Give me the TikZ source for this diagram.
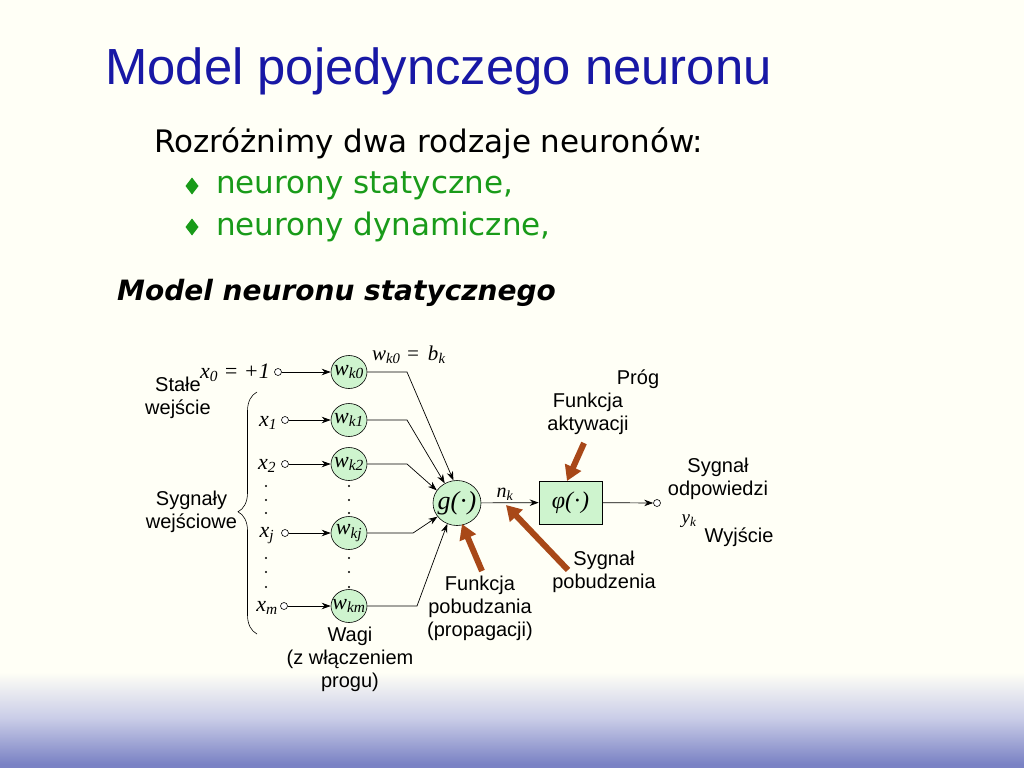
\documentclass[tikz,border=0pt]{standalone}
\usepackage{fontspec}
\setmainfont{Liberation Sans}
\newfontfamily\tms{Liberation Serif}
\newfontfamily\comic{DejaVu Sans}
\usetikzlibrary{arrows.meta,decorations.pathreplacing,shapes.geometric}
\definecolor{bgivory}{RGB}{255,255,246}
\definecolor{bgblue}{RGB}{122,130,196}
\definecolor{titleblue}{RGB}{24,24,165}
\definecolor{bulgreen}{RGB}{25,155,25}
\definecolor{lgreen}{RGB}{206,244,206}
\definecolor{rust}{RGB}{168,72,24}
\tikzset{
  lbl/.style={font=\fontsize{20}{23}\selectfont, align=center, inner sep=0},
  mth/.style={font=\tms\itshape\fontsize{22}{24}\selectfont, inner sep=0},
  wnode/.style={ellipse, draw, line width=0.6pt, fill=lgreen, minimum width=36pt, minimum height=33pt, inner sep=0, font=\tms\itshape\fontsize{22}{24}\selectfont},
  inp/.style={circle, draw, line width=0.6pt, fill=white, minimum size=7pt, inner sep=0},
  conn/.style={-{Stealth[length=9pt,width=6.5pt]}, line width=0.7pt},
  bigarrow/.style={draw=rust, line width=6pt, -{Triangle[length=15pt,width=17pt]}},
  vdot/.style={circle, fill=black, minimum size=2.2pt, inner sep=0}
}
\newcommand{\wlab}[1]{\makebox[0pt]{w\textsubscript{#1}}}
\begin{document}
\begin{tikzpicture}[x=1pt,y=-1pt]
\useasboundingbox (0,0) rectangle (1024,768);
\fill[bgivory] (0,0) rectangle (1024,768);
\shade[top color=bgivory, bottom color=bgblue, middle color=bgblue!40!white] (0,672) rectangle (1024,764);
\fill[bgblue] (0,764) rectangle (1024,768);

% header texts
\node[anchor=base west, inner sep=0, text=titleblue, font=\fontsize{50.8}{60}\selectfont] (title) at (105,84) {Model pojedynczego neuronu};
\node[anchor=base west, inner sep=0, font=\comic\fontsize{31}{36}\selectfont] (intro) at (154,152) {Rozróżnimy dwa rodzaje neuronów:};
\fill[bulgreen] (192,177.5) -- (198.5,186) -- (192,194.5) -- (185.5,186) -- cycle;
\node[anchor=base west, inner sep=0, text=bulgreen, font=\comic\fontsize{31}{36}\selectfont] (b1) at (216,193) {neurony statyczne,};
\fill[bulgreen] (192,218.5) -- (198.5,227) -- (192,235.5) -- (185.5,227) -- cycle;
\node[anchor=base west, inner sep=0, text=bulgreen, font=\comic\fontsize{31}{36}\selectfont] (b2) at (216,235) {neurony dynamiczne,};
\node[anchor=base west, inner sep=0, font=\comic\bfseries\itshape\fontsize{28}{34}\selectfont] (sub) at (117,300) {Model neuronu statycznego};

% weight nodes
\node[wnode] (w0) at (349,372) {\wlab{k0}};
\node[wnode] (w1) at (349,420) {\wlab{k1}};
\node[wnode] (w2) at (349,464) {\wlab{k2}};
\node[wnode] (wj) at (349,533) {\wlab{kj}};
\node[wnode] (wm) at (349,606) {\wlab{km}};

% input terminals
\node[inp] (i0) at (278,372) {};
\node[inp] (i1) at (285,420) {};
\node[inp] (i2) at (285,464) {};
\node[inp] (ij) at (285,533) {};
\node[inp] (im) at (284,606) {};

% input labels
\node[mth, anchor=base] (x0) at (235,378) {x\textsubscript{0} = +1};
\node[mth, anchor=base] (x1) at (268,426) {x\textsubscript{1}};
\node[mth, anchor=base] (x2) at (267,469) {x\textsubscript{2}};
\node[mth, anchor=base] (xj) at (267,537) {x\textsubscript{j}};
\node[mth, anchor=base] (xm) at (267,611) {x\textsubscript{m}};
\node[mth, anchor=base west, font=\tms\itshape\fontsize{21}{24}\selectfont] (bias) at (372,360) {w\textsubscript{k0} =\hspace{8pt}b\textsubscript{k}};

% vertical dots
\foreach \yy [count=\i] in {486,500,513,558,572,587} {
  \node[vdot] (dx\i) at (266,\yy) {};
  \node[vdot] (dw\i) at (349,\yy) {};
}

% summation and activation
\node[ellipse, draw, line width=0.6pt, fill=lgreen, minimum width=48pt, minimum height=45pt, inner sep=0, font=\tms\itshape\fontsize{26}{28}\selectfont] (g) at (457,503) {\makebox[0pt]{g(\kern1pt·\kern1pt)}};
\node[rectangle, draw, line width=0.6pt, fill=lgreen, minimum width=63pt, minimum height=43pt, inner sep=0, font=\tms\itshape\fontsize{24}{26}\selectfont] (phi) at (570.5,502.5) {φ(\kern1pt·\kern1pt)};
\node[inp] (out) at (657,503) {};
\node[mth, font=\tms\itshape\fontsize{20}{22}\selectfont] (nk) at (505,494) {n\textsubscript{k}};
\node[mth, font=\tms\itshape\fontsize{19}{22}\selectfont] (yk) at (689,521) {y\textsubscript{k}};

% bend points
\coordinate (c0) at (407,372);
\coordinate (c1) at (407,420);
\coordinate (c2) at (407,464);
\coordinate (cj) at (413,533);
\coordinate (cm) at (417,606);

% connectors
\draw[conn] (i0) -- (w0);
\draw[conn] (i1) -- (w1);
\draw[conn] (i2) -- (w2);
\draw[conn] (ij) -- (wj);
\draw[conn] (im) -- (wm);
\draw[conn] (w0) -- (c0) -- (g.99);
\draw[conn] (w1) -- (c1) -- (g.122);
\draw[conn] (w2) -- (c2) -- (g.148);
\draw[conn] (wj) -- (cj) -- (g.215);
\draw[conn] (wm) -- (cm) -- (g.245);
\draw[conn] (g) -- (phi);
\draw[conn] (phi) -- (out);

% brace
\draw[line width=0.6pt, decorate, decoration={brace, amplitude=19pt, aspect=0.505}] (257,634) coordinate (brb) -- (257,392) coordinate (brt);

% text labels
\node[lbl] (stale) at (178,397.5) {Stałe\\wejście};
\node[lbl] (syg) at (191.5,511.5) {Sygnały\\wejściowe};
\node[lbl] (wagi) at (350,659.5) {Wagi\\(z włączeniem\\progu)};
\node[lbl] (fpob) at (480,608.5) {Funkcja\\pobudzania\\(propagacji)};
\node[lbl] (spob) at (604,571.5) {Sygnał\\pobudzenia};
\node[lbl] (fakt) at (588,414) {Funkcja\\aktywacji};
\node[lbl] (prog) at (638,379) {Próg};
\node[lbl] (sodp) at (718,478.5) {Sygnał\\odpowiedzi};
\node[lbl] (wyj) at (739,537) {Wyjście};

% brown pointer arrows
\coordinate (a1s) at (584,443);
\coordinate (a1t) at (567,481);
\coordinate (a2s) at (568,570);
\coordinate (a2t) at (506,505);
\coordinate (a3s) at (482,571);
\coordinate (a3t) at (462,524);
\draw[bigarrow] (a1s) -- (a1t);
\draw[bigarrow] (a2s) -- (a2t);
\draw[bigarrow] (a3s) -- (a3t);
\end{tikzpicture}
\end{document}
